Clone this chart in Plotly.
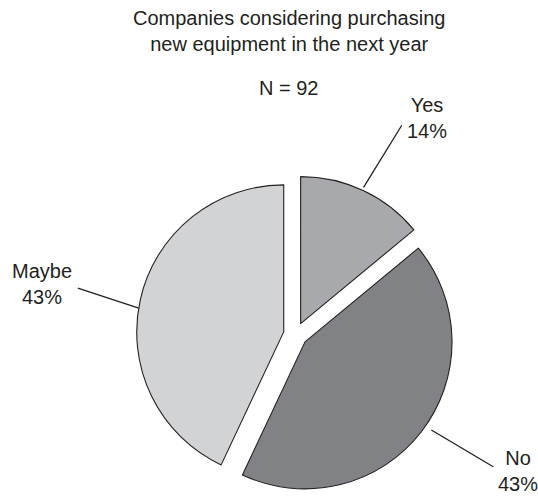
import math
import plotly.graph_objects as go

# ---- data ----
categories = ["Yes", "No", "Maybe"]
percents = [14, 43, 43]
title_lines = ["Companies considering purchasing", "new equipment in the next year"]
sample_label = "N = 92"

# ---- style ----
colors = ["#a7a9ac", "#808285", "#d1d3d4"]
outline = "#231f20"
text_color = "#231f20"
FONT = "Liberation Sans, Arial, Helvetica, sans-serif"
FS = 20
W, H = 538, 496
PULL = 0.082
CX, CY, R = 295.5, 334.5, 147.0       # pie centre / radius in px
anchor_shift = [-0.4, -2.9, -3.3]     # degrees, where the leader meets the arc
anchor_extra = [3, 7, 0]              # px beyond the arc
leader_len = [73, 72, 64]
leader_tilt = [6.8, -4.2, 8.9]        # degrees relative to anchor angle
label_side = ["left", "left", "right"]
label_dx = [3, 3, -4]
label_dy = [-7, 4.5, -4]

box = R * (2 + 2 * PULL)
dom_x = [(CX - box / 2) / W, (CX + box / 2) / W]
dom_y = [1 - (CY + box / 2) / H, 1 - (CY - box / 2) / H]

fig = go.Figure(go.Pie(
    labels=categories, values=percents, sort=False, direction="clockwise",
    rotation=0, pull=[PULL] * len(percents), textinfo="none", hoverinfo="skip",
    marker=dict(colors=colors, line=dict(color=outline, width=1.1)),
    domain=dict(x=dom_x, y=dom_y), showlegend=False,
))


def pt(x, y, ang, d):
    a = math.radians(ang)
    return x + d * math.sin(a), y - d * math.cos(a)


total = sum(percents)
cum = 0
shapes, annotations = [], []
for i, (cat, v) in enumerate(zip(categories, percents)):
    mid = (cum + v / 2) / total * 360
    cum += v
    ax, ay = pt(CX, CY, mid, R * PULL)
    a_in = mid + anchor_shift[i]
    ix, iy = pt(ax, ay, a_in, R + anchor_extra[i])
    ox, oy = pt(ix, iy, a_in + leader_tilt[i], leader_len[i])
    shapes.append(dict(type="line", xref="paper", yref="paper",
                       x0=ix / W, y0=1 - iy / H, x1=ox / W, y1=1 - oy / H,
                       line=dict(color=outline, width=1.3)))
    tx = ox + label_dx[i]
    ty = oy + label_dy[i]
    annotations.append(dict(
        text=f"{cat}<br>{round(v / total * 100)}%", x=tx / W, y=1 - ty / H,
        xref="paper", yref="paper", showarrow=False,
        xanchor=label_side[i], yanchor="middle", align="center",
        font=dict(family=FONT, size=FS, color=text_color)))

annotations.append(dict(text="<br>".join(title_lines), x=288.5 / W, y=1 - 31.5 / H,
                        xref="paper", yref="paper", showarrow=False,
                        xanchor="center", yanchor="middle", align="center",
                        font=dict(family=FONT, size=FS, color=text_color)))
annotations.append(dict(text=sample_label, x=288.5 / W, y=1 - 88 / H,
                        xref="paper", yref="paper", showarrow=False,
                        xanchor="center", yanchor="middle",
                        font=dict(family=FONT, size=FS, color=text_color)))

fig.update_layout(width=W, height=H, margin=dict(l=0, r=0, t=0, b=0),
                  paper_bgcolor="white", plot_bgcolor="white",
                  shapes=shapes, annotations=annotations)
fig.write_html("out.html")
